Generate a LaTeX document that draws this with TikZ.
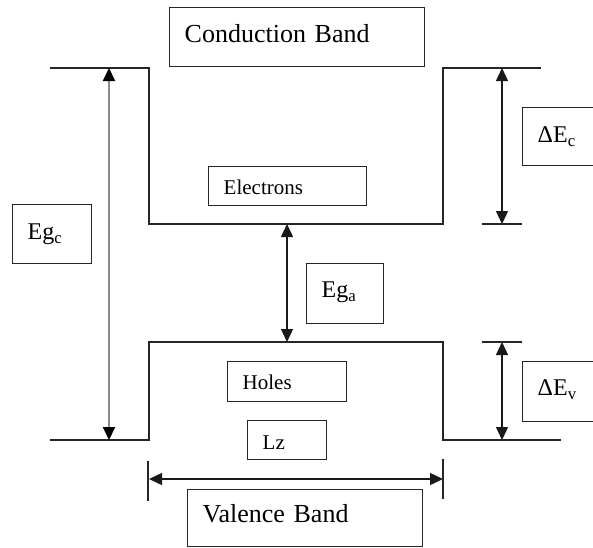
\documentclass[tikz,border=0pt]{standalone}
\usepackage{fontspec}
\setmainfont{Liberation Serif}
\usetikzlibrary{arrows.meta}

\begin{document}
\begin{tikzpicture}[
    x=1pt, y=-1pt,
    band/.style={draw=black!85, line width=1.4pt},
    textbox/.style={
        draw=black!85, line width=1.4pt, rectangle, anchor=north west,
        inner xsep=15pt, inner ysep=0pt, align=left
    },
    bigtext/.style={font=\fontsize{26pt}{30pt}\selectfont},
    midtext/.style={font=\fontsize{24pt}{28pt}\selectfont},
    smalltext/.style={font=\fontsize{21pt}{25pt}\selectfont},
    dimarrow/.style={
        line width=1.4pt, draw=black!90,
        {Triangle[length=13pt,width=12pt]}-{Triangle[length=13pt,width=12pt]}
    },
    greyarrow/.style={
        line width=2pt, draw=black!45,
        {Triangle[length=13pt,width=12pt,color=black]}-{Triangle[length=13pt,width=12pt,color=black]}
    },
    tick/.style={draw=black!85, line width=1.4pt}
]
\clip (0,0) rectangle (593,547);

% --- Conduction band profile (barrier - well - barrier)
\coordinate (cl)  at (50,68);
\coordinate (cwl) at (149,68);
\coordinate (cbl) at (149,224);
\coordinate (cbr) at (443,224);
\coordinate (cwr) at (443,68);
\coordinate (cr)  at (541,68);
\draw [band] (cl) -- (cwl) -- (cbl) -- (cbr) -- (cwr) -- (cr);

% --- Valence band profile
\coordinate (vl)  at (50,440);
\coordinate (vwl) at (149,440);
\coordinate (vtl) at (149,342);
\coordinate (vtr) at (443,342);
\coordinate (vwr) at (443,440);
\coordinate (vr)  at (561,440);
\draw [band] (vl) -- (vwl) -- (vtl) -- (vtr) -- (vwr) -- (vr);

% --- Text boxes
\node (cond)  [textbox, bigtext,   text width=225pt, text height=35pt, text depth=24pt] at (169,7)   {Conduction Band};
\node (elec)  [textbox, smalltext, text width=128pt, text height=28pt, text depth=11pt] at (208,166) {Electrons};
\node (egc)   [textbox, midtext,   text width=49pt,  text height=35pt, text depth=24pt] at (12,204)  {Eg\textsubscript{c}};
\node (dec)   [textbox, midtext,   text width=50pt,  text height=35pt, text depth=23pt] at (522,107) {ΔE\textsubscript{c}};
\node (ega)   [textbox, midtext,   text width=47pt,  text height=34pt, text depth=26pt] at (306,263) {Eg\textsubscript{a}};
\node (holes) [textbox, smalltext, text width=89pt,  text height=28pt, text depth=12pt] at (227,361) {Holes};
\node (dev)   [textbox, midtext,   text width=50pt,  text height=34pt, text depth=26pt] at (522,361) {ΔE\textsubscript{v}};
\node (lz)    [textbox, smalltext, text width=49pt,  text height=29pt, text depth=10pt] at (247,420) {Lz};
\node (val)   [textbox, bigtext,   text width=205pt, text height=33pt, text depth=24pt] at (187,489) {Valence Band};

% --- Gap arrows
\coordinate (egcT) at (109,68);
\coordinate (egcB) at (109,440);
\draw [greyarrow] (egcT) -- (egcB);

\coordinate (egaT) at (287,224);
\coordinate (egaB) at (287,342);
\draw [dimarrow] (egaT) -- (egaB);

% --- Band offsets with ticks
\coordinate (decT) at (502,68);
\coordinate (decB) at (502,224);
\draw [dimarrow] (decT) -- (decB);
\draw [tick] (482,224) -- (522,224);

\coordinate (devT) at (502,342);
\coordinate (devB) at (502,440);
\draw [dimarrow] (devT) -- (devB);
\draw [tick] (482,342) -- (522,342);

% --- Well width Lz
\coordinate (lzL) at (149,479);
\coordinate (lzR) at (443,479);
\draw [dimarrow] (lzL) -- (lzR);
\draw [tick] (148,461) -- (148,501);
\draw [tick] (443,459) -- (443,499);

\end{tikzpicture}
\end{document}
